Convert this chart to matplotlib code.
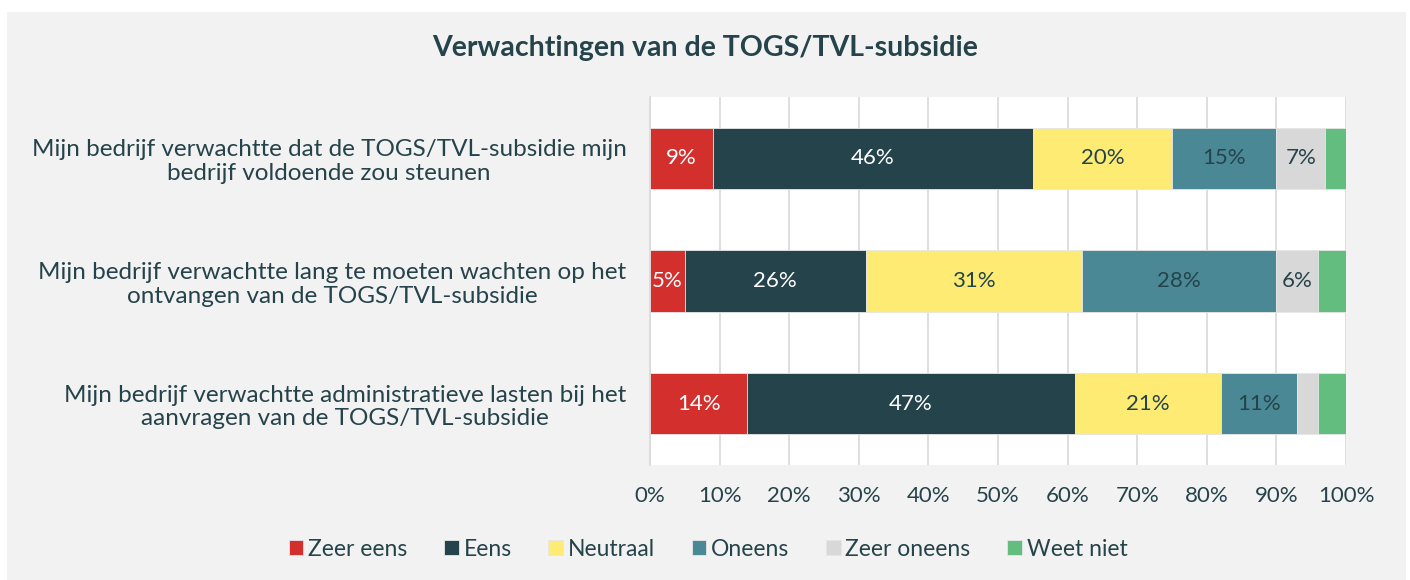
import numpy as np
import matplotlib.pyplot as plt
from matplotlib.patches import Rectangle

plt.rcParams["font.family"] = ["Lato", "DejaVu Sans"]

categories = [
    "Mijn bedrijf verwachtte dat de TOGS/TVL-subsidie mijn\nbedrijf voldoende zou steunen",
    "Mijn bedrijf verwachtte lang te moeten wachten op het\nontvangen van de TOGS/TVL-subsidie",
    "Mijn bedrijf verwachtte administratieve lasten bij het\naanvragen van de TOGS/TVL-subsidie",
]
series = ["Zeer eens", "Eens", "Neutraal", "Oneens", "Zeer oneens", "Weet niet"]
zeer_eens = [9, 5, 14]
eens = [46, 26, 47]
neutraal = [20, 31, 21]
oneens = [15, 28, 11]
zeer_oneens = [7, 6, 3]
weet_niet = [3, 4, 4]
values = [zeer_eens, eens, neutraal, oneens, zeer_oneens, weet_niet]

colors = ["#d32f2d", "#25434a", "#fdeb74", "#4a8895", "#d8d8d8", "#63bd7e"]
text_colors = ["white", "white", "#25434a", "#25434a", "#25434a", "#25434a"]
dark = "#25434a"

fig = plt.figure(figsize=(14.1, 5.8), dpi=100, facecolor="white")
fig.patches.append(Rectangle((7 / 1410, 0), 1399 / 1410, 568 / 580,
                             transform=fig.transFigure, facecolor="#f2f2f2",
                             edgecolor="none", zorder=-10))
ax = fig.add_axes([650 / 1410, 1 - 465 / 580, 696 / 1410, 368 / 580])
ax.set_facecolor("white")

y = np.arange(len(categories))
left = np.zeros(len(categories))
for name, vals, col, tcol in zip(series, values, colors, text_colors):
    vals = np.array(vals, dtype=float)
    ax.barh(y, vals / 100, left=left, height=0.5, color=col, label=name,
            edgecolor="#e6e6e6", linewidth=0.6, zorder=3)
    for yi, l, v in zip(y, left, vals):
        if v >= 5:
            ax.text(l + v / 200, yi, f"{v:.0f}%", ha="center", va="center",
                    color=tcol, fontsize=16, zorder=4)
    left += vals / 100

ax.set_xlim(0, 1)
ax.set_ylim(2.5, -0.5)
ax.set_xticks(np.arange(0, 1.01, 0.1))
ax.set_xticklabels([f"{int(round(t * 100))}%" for t in np.arange(0, 1.01, 0.1)])
ax.set_yticks(y)
ax.set_yticklabels(categories, multialignment="center", fontsize=17.5,
                   linespacing=1.15)
ax.tick_params(axis="x", length=0, labelsize=16, colors=dark, pad=15)
ax.tick_params(axis="y", length=0, colors=dark, pad=17)
ax.grid(axis="x", color="#d9d9d9", linewidth=1.2, zorder=0)
for s in ["top", "right", "bottom"]:
    ax.spines[s].set_visible(False)
ax.spines["left"].set_color("#d9d9d9")
ax.spines["left"].set_linewidth(1.2)

fig.text(705 / 1410, 1 - 48 / 580, "Verwachtingen van de TOGS/TVL-subsidie",
         ha="center", va="center", fontsize=20.5, fontweight="bold", color=dark)

fig.legend(loc="center", bbox_to_anchor=(708 / 1410, 1 - 549 / 580), ncol=6,
           frameon=False, fontsize=16.5,
           handlelength=0.65, handleheight=0.65,
           handletextpad=0.2, columnspacing=1.6, labelcolor=dark)

fig.savefig("out.png", dpi=100, facecolor=fig.get_facecolor())
